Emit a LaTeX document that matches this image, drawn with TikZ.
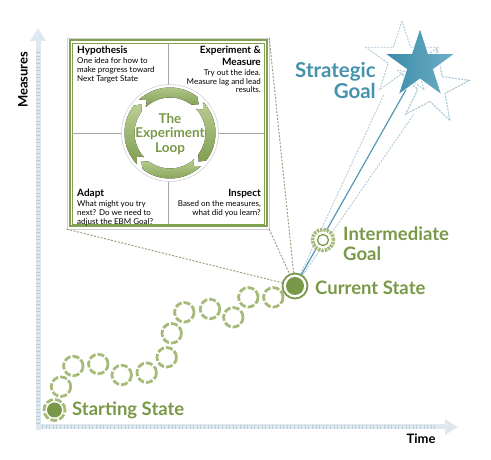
\documentclass[tikz,border=0pt]{standalone}
\usepackage{fontspec}
\setmainfont{Lato}
\usetikzlibrary{positioning,shapes.geometric,arrows.meta}

\definecolor{stategreen}{RGB}{122,153,72}
\definecolor{ringgreen}{RGB}{166,186,122}
\definecolor{boxgreen}{RGB}{130,160,82}
\definecolor{loopdark}{RGB}{128,158,82}
\definecolor{looplight}{RGB}{186,206,146}
\definecolor{goalblue}{RGB}{69,146,172}
\definecolor{stardark}{RGB}{56,138,168}
\definecolor{starlight}{RGB}{112,176,198}
\definecolor{ghostblue}{RGB}{176,202,216}
\definecolor{trailblue}{RGB}{86,150,180}
\definecolor{axisblue}{RGB}{221,232,239}
\definecolor{tickblue}{RGB}{186,204,216}
\definecolor{zoomgray}{RGB}{156,160,130}

\tikzset{
  axisbar/.style={draw=axisblue, line width=5pt, -{Triangle[width=15pt,length=13pt]}},
  axistick/.style={draw=tickblue, line width=3.4pt, dash pattern=on 1pt off 2.6pt},
  stepring/.style={circle, draw=ringgreen, line width=2.8pt, dash pattern=on 7pt off 2pt, minimum size=19.5pt, inner sep=0pt},
  zoomline/.style={draw=zoomgray, line width=1pt, dash pattern=on 2pt off 1.5pt},
  ghost/.style={star, star points=5, star point ratio=2.618, draw=ghostblue, fill=white, line width=0.9pt, dash pattern=on 2pt off 1.2pt, inner sep=0pt},
  boxtext/.style={inner sep=0pt, font=\fontsize{8}{8.8}\selectfont},
  statelabel/.style={text=stategreen, font=\fontsize{18.5}{20}\selectfont\bfseries, align=left, anchor=west, inner sep=0pt}
}
\newcommand\quadtitle{\fontsize{10}{10}\selectfont\bfseries}

\begin{document}
\begin{tikzpicture}[x=1pt,y=1pt]
\useasboundingbox (0,0) rectangle (491,460);

% axes
\draw [axisbar] (38,30) -- (38,432);
\draw [axisbar] (36,33) -- (458,33);
\draw [axistick] (38,36) -- (38,410);
\draw [axistick] (42,33) -- (436,33);
\node (Y) at (23,380) [rotate=90, font=\fontsize{13}{14}\selectfont\bfseries]{Measures};
\node (X) at (421,21) [font=\fontsize{13}{14}\selectfont\bfseries]{Time};

% the experiment loop box
\node (L) at (168,326.5) [draw=gray!35, fill=white, minimum width=202pt, minimum height=191pt, inner sep=0pt]{};
\node (C) at (295,174) [circle, minimum size=26pt, inner sep=0pt]{};

\draw [zoomline] (L.north east) -- (C);
\draw [zoomline] (L.south east) -- (C);
\draw [zoomline] (L.south west) -- (C);

\draw [boxgreen, line width=2pt] (69.5,233.5) rectangle (266.5,419.5);
\draw [boxgreen, line width=0.5pt] (72,236) rectangle (264,417);
\draw [gray!70, line width=0.5pt] (168,236) -- (168,417);
\draw [gray!70, line width=0.5pt] (72,326.5) -- (264,326.5);

\node (H) at (77,414) [boxtext, anchor=north west, align=left]{{\quadtitle Hypothesis}\\[1pt]One idea for how to\\make progress toward\\Next Target State};
\node (E) at (261,414) [boxtext, anchor=north east, align=right]{{\quadtitle Experiment \&}\\[1.5pt]{\quadtitle Measure}\\[1.5pt]Try out the idea.\\Measure lag and lead\\results.};
\node (A) at (77,271) [boxtext, anchor=north west, align=left]{{\quadtitle Adapt}\\[1pt]What might you try\\next? Do we need to\\adjust the EBM Goal?};
\node (I-1) at (261,271) [boxtext, anchor=north east, align=right]{{\quadtitle Inspect}\\[1pt]Based on the measures,\\what did you learn?};

\begin{scope}[shift={(170,327)}]
\fill [white] (0,0) circle [radius=48.5];
\draw [gray!40, line width=0.5pt] (0,0) circle [radius=48.5];
\foreach \b in {45,-45,-135,-225}
  \fill [top color=looplight, bottom color=loopdark] (\b+88:45.5) arc[start angle=\b+88, end angle=\b+8, radius=45.5] -- (\b:40.5) -- (\b+8:35.5) arc[start angle=\b+8, end angle=\b+88, radius=35.5] -- (\b+80:40.5) -- cycle;
\end{scope}
\node (T) at (170,326) [text=stategreen, align=center, font=\fontsize{13.5}{14.5}\selectfont\bfseries]{The\\Experiment\\Loop};

% trails to the goal
\node (B) at (432,373) [ghost, minimum size=76pt, rotate=-8]{};
\node (A-1) at (402,401) [ghost, minimum size=76pt]{};
\coordinate (ta) at (384,366);
\coordinate (tb) at (414,346);
\draw [ghostblue, line width=0.9pt, dash pattern=on 2pt off 1.2pt] (C) -- (ta);
\draw [ghostblue, line width=0.9pt, dash pattern=on 2pt off 1.2pt] (C) -- (tb);
\node (B-1) at (432,373) [ghost, minimum size=76pt, rotate=-8, fill=none]{};
\node (G) at (420,395) [star, star points=5, star point ratio=2.618, minimum size=74pt, inner sep=0pt, draw=white, line width=0.8pt, left color=stardark, right color=starlight]{};
\draw [trailblue, line width=1.2pt] (C) -- (G);
\node (G-1) at (376,380) [anchor=east, align=right, inner sep=0pt, text=goalblue, font=\fontsize{20.5}{21}\selectfont\bfseries]{Strategic\\Goal};

% steps from start to current state
\node (P-1) at (61,73.3) [stepring]{};
\node (P-2) at (73.3,94) [stepring]{};
\node (P-3) at (98.3,96) [stepring]{};
\node (P-4) at (121.7,85) [stepring]{};
\node (P-5) at (146.7,87.3) [stepring]{};
\node (P-6) at (166.7,102.7) [stepring]{};
\node (P-7) at (171.7,126.7) [stepring]{};
\node (P-8) at (184.3,147.7) [stepring]{};
\node (P-9) at (210,151) [stepring]{};
\node (P-10) at (233.3,142.7) [stepring]{};
\node (P-11) at (248.3,162.7) [stepring]{};
\node (P-12) at (273.3,162.7) [stepring]{};

\node (S) at (54.5,50) [stepring, minimum size=21pt, fill=white]{};
\fill [stategreen] (S.center) circle [radius=7.5];
\node (S-1) at (72,50) [statelabel]{Starting State};

\node (C-1) at (C) [circle, draw=stategreen, line width=1.8pt, fill=white, minimum size=25pt, inner sep=0pt]{};
\fill [stategreen] (C.center) circle [radius=9];
\node (C-2) at (315,172) [statelabel]{Current State};

\node (M) at (323,220) [circle, draw=ringgreen, line width=3.6pt, dash pattern=on 2.4pt off 1pt, fill=white, minimum size=21pt, inner sep=0pt]{};
\draw [stategreen, line width=1.3pt] (M.center) circle [radius=5.5];
\node (M-1) at (343,216) [statelabel]{Intermediate\\Goal};

\end{tikzpicture}
\end{document}
